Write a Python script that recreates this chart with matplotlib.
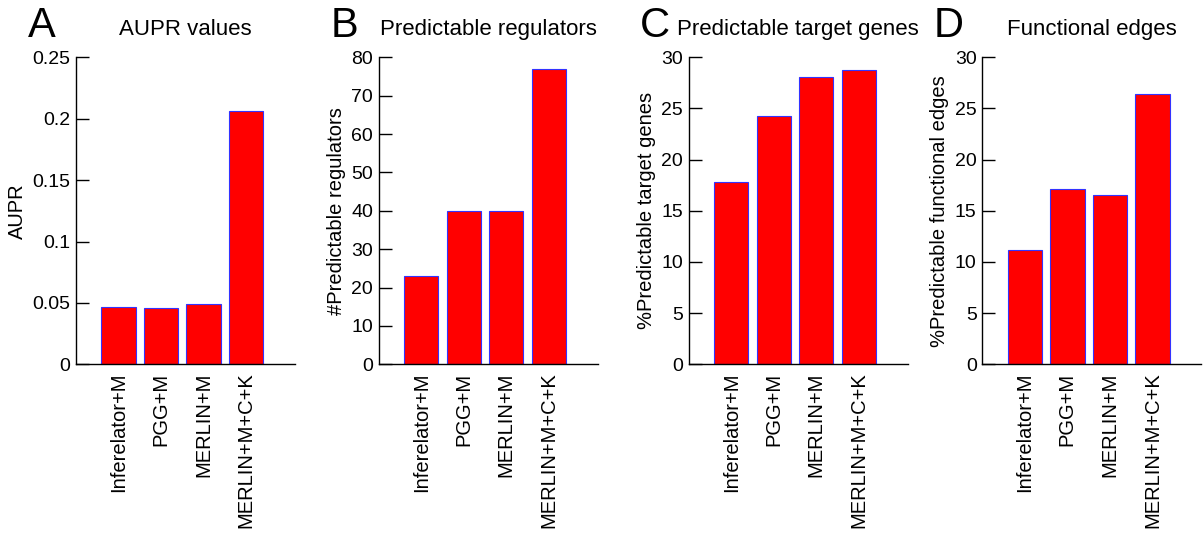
import matplotlib
matplotlib.use("Agg")
import matplotlib.pyplot as plt

plt.rcParams['font.family'] = ['Liberation Sans', 'DejaVu Sans']

methods = ["Inferelator+M", "PGG+M", "MERLIN+M", "MERLIN+M+C+K"]
aupr = [0.0467, 0.0456, 0.0489, 0.206]
regulators = [23.1, 40.0, 40.0, 77.0]
target_genes = [17.8, 24.3, 28.05, 28.76]
functional_edges = [11.14, 17.16, 16.5, 26.44]

panels = [
    ("A", "AUPR values", "AUPR", aupr, 0.25, [0, 0.05, 0.1, 0.15, 0.2, 0.25], ["0", "0.05", "0.1", "0.15", "0.2", "0.25"]),
    ("B", "Predictable regulators", "#Predictable regulators", regulators, 80, list(range(0, 81, 10)), None),
    ("C", "Predictable target genes", "%Predictable target genes", target_genes, 30, list(range(0, 31, 5)), None),
    ("D", "Functional edges", "%Predictable functional edges", functional_edges, 30, list(range(0, 31, 5)), None),
]

W, H = 1204, 538
fig = plt.figure(figsize=(W / 100, H / 100), dpi=100)
lefts = [76, 378.7, 688.7, 982.3]
ax_w = 219
bottom_px = 364.3
top_px = 57.3

for (letter, title, ylabel, vals, ymax, ticks, ticklabels), lp in zip(panels, lefts):
    ax = fig.add_axes([lp / W, 1 - bottom_px / H, ax_w / W, (bottom_px - top_px) / H])
    x = list(range(1, len(methods) + 1))
    ax.bar(x, vals, width=0.81, color="#ff0000", edgecolor="#3333ff", linewidth=0.8)
    ax.set_xlim(0, 5.15)
    ax.set_ylim(0, ymax)
    ax.set_yticks(ticks)
    if ticklabels:
        ax.set_yticklabels(ticklabels)
    ax.set_xticks(x)
    ax.set_xticklabels(methods, rotation=90)
    ax.tick_params(axis='y', direction='in', length=9, labelsize=14, width=1, pad=4)
    ax.tick_params(axis='x', length=0, labelsize=14.5, pad=6)
    for s in ["top", "right"]:
        ax.spines[s].set_visible(False)
    for s in ["left", "bottom"]:
        ax.spines[s].set_linewidth(1)
    ax.set_ylabel(ylabel, fontsize=14.5, labelpad=4)
    ax.set_title(title, fontsize=16, pad=16)
    ax.text(-0.155, 1.065, letter, transform=ax.transAxes, fontsize=30, ha="center", va="baseline")

fig.savefig("out.png", dpi=100)
